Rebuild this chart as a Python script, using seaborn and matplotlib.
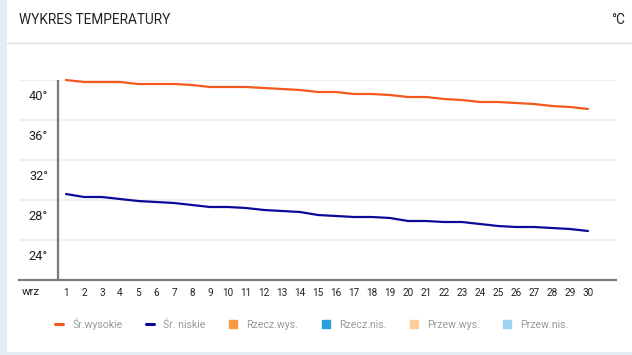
import matplotlib
matplotlib.use('Agg')
import matplotlib.pyplot as plt
import matplotlib.transforms as mtransforms
from matplotlib.lines import Line2D
from matplotlib.patches import Rectangle
import seaborn as sns
import pandas as pd

# ---- data ----
days = list(range(1, 31))
high = [40.0, 39.8, 39.8, 39.8, 39.6, 39.6, 39.6, 39.5, 39.3, 39.3,
        39.3, 39.2, 39.1, 39.0, 38.8, 38.8, 38.6, 38.6, 38.5, 38.3,
        38.3, 38.1, 38.0, 37.8, 37.8, 37.7, 37.6, 37.4, 37.3, 37.1]
low = [28.6, 28.3, 28.3, 28.1, 27.9, 27.8, 27.7, 27.5, 27.3, 27.3,
       27.2, 27.0, 26.9, 26.8, 26.5, 26.4, 26.3, 26.3, 26.2, 25.9,
       25.9, 25.8, 25.8, 25.6, 25.4, 25.3, 25.3, 25.2, 25.1, 24.9]
series_names = ['Śr.wysokie', 'Śr. niskie']
extra_names = ['Rzecz.wys.', 'Rzecz.nis.', 'Przew.wys.', 'Przew.nis.']
y_ticks = [24, 28, 32, 36, 40]
y_tick_labels = [f'{v}°' for v in y_ticks]
x_tick_labels = [str(d) for d in days]
month_label = 'wrz'
title = 'WYKRES TEMPERATURY'
unit = '°C'

# ---- style ----
c_high = '#f4581c'
c_low = '#0a0a99'
extra_colors = ['#f99a42', '#2a9fd8', '#ffcc9c', '#9ed3ef']
axis_grey = '#7a7a7a'
grid_grey = '#efefef'

sns.set_theme(style='white')
plt.rcParams['font.family'] = ['Roboto', 'DejaVu Sans']

W, H = 632, 355
fig = plt.figure(figsize=(W / 100, H / 100), dpi=100)
fig.patch.set_facecolor('white')

# side/bottom strips and header separator
fig.patches.append(Rectangle((0, 0), 7 / W, 1, transform=fig.transFigure,
                             facecolor='#e6ecf4', edgecolor='none', zorder=0))
fig.patches.append(Rectangle((0, 0), 1, 3 / H, transform=fig.transFigure,
                             facecolor='#e6ecf4', edgecolor='none', zorder=0))
fig.lines.append(Line2D([7 / W, 1], [1 - 43 / H, 1 - 43 / H], transform=fig.transFigure,
                        color='#e0e0e0', lw=1))

fig.text(19 / W, 1 - 20 / H, title, ha='left', va='center', fontsize=9.8, color='#222222')
fig.text(625 / W, 1 - 20 / H, unit, ha='right', va='center', fontsize=9.8, color='#222222')

ax = fig.add_axes([19 / W, 75 / H, 597 / W, 200 / H])

df = pd.DataFrame({
    'day': days * 2,
    'temp': high + low,
    'series': [series_names[0]] * len(days) + [series_names[1]] * len(days),
})
sns.lineplot(data=df, x='day', y='temp', hue='series', palette=[c_high, c_low],
             linewidth=1.6, ax=ax, legend=False)
for l in ax.lines:
    l.set_clip_on(False)

ax.set_xlim(-1.611, 31.556)
ax.set_ylim(20, 40)
for s in ['top', 'right', 'left']:
    ax.spines[s].set_visible(False)
ax.spines['bottom'].set_color(axis_grey)
ax.spines['bottom'].set_linewidth(1.6)
ax.axvline(0.556, color=axis_grey, lw=1.6, zorder=3)

ax.set_yticks(y_ticks)
ax.set_yticklabels(y_tick_labels)
ax.yaxis.grid(True, color=grid_grey, lw=1.6)
ax.xaxis.grid(False)
ax.set_axisbelow(True)
ax.tick_params(axis='y', length=0, pad=-29 * 0.72, labelsize=9.2, labelcolor='#222222')
offset = mtransforms.ScaledTranslation(0, -15 / 100, fig.dpi_scale_trans)
for lab in ax.get_yticklabels():
    lab.set_transform(lab.get_transform() + offset)

ax.set_xticks(days)
ax.set_xticklabels(x_tick_labels)
ax.tick_params(axis='x', length=0, pad=6, labelsize=7.2, labelcolor='#222222')
ax.set_xlabel('')
ax.set_ylabel('')

fig.text(31 / W, 1 - 292 / H, month_label, ha='center', va='center', fontsize=8.2, color='#222222')

handles = [Line2D([0], [0], color=c_high, lw=2.2),
           Line2D([0], [0], color=c_low, lw=2.2)]
for c in extra_colors:
    handles.append(Line2D([0], [0], marker='s', ls='none', markersize=5.5,
                          markerfacecolor=c, markeredgecolor=c))
fig.legend(handles, series_names + extra_names, loc='center left',
           bbox_to_anchor=(55 / W, 1 - 324 / H), ncol=6, frameon=False,
           fontsize=7.6, handlelength=0.8, handletextpad=0.85, columnspacing=2.2,
           borderpad=0, borderaxespad=0, labelcolor='#9a9a9a')

fig.savefig('out.png', dpi=100)
